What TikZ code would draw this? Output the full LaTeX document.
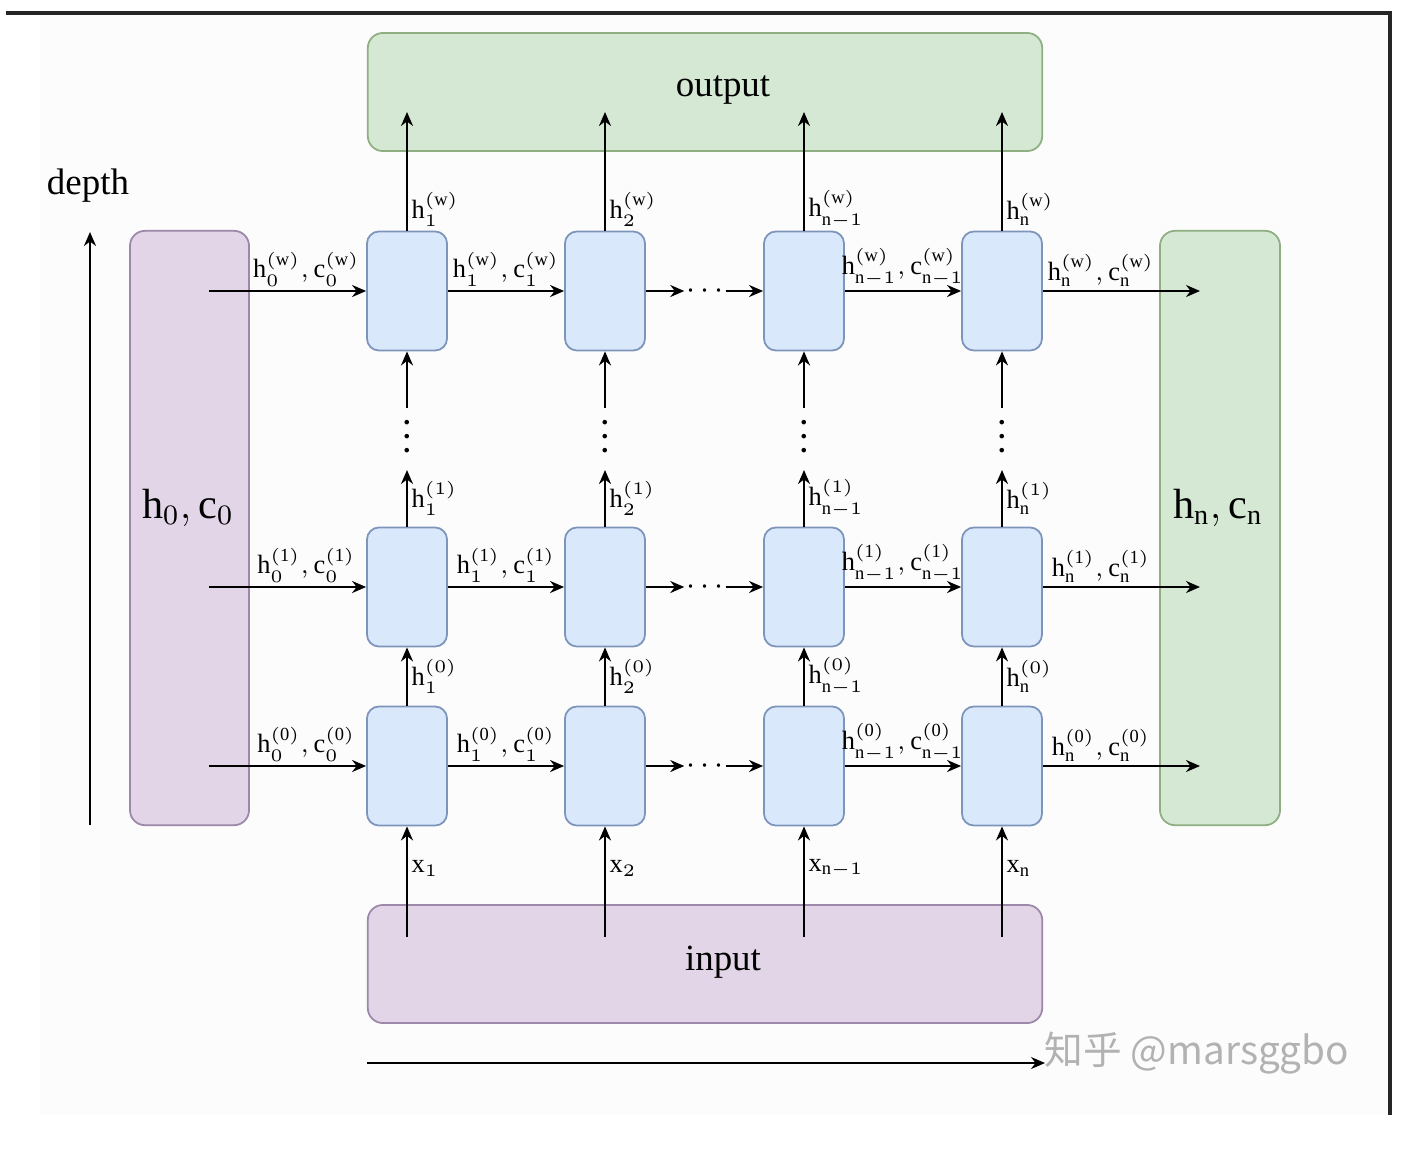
\documentclass[tikz,border=0pt]{standalone}
\usepackage{fontspec}
\setmainfont{Liberation Serif}
\newfontfamily\cjkfont{Noto Sans CJK SC}
\usepackage{tikz}
\usetikzlibrary{arrows.meta,positioning}

\definecolor{cellfill}{HTML}{DAE8FC}
\definecolor{cellline}{HTML}{7D95BA}
\definecolor{purfill}{HTML}{E1D5E7}
\definecolor{purline}{HTML}{9C88A8}
\definecolor{grnfill}{HTML}{D5E8D4}
\definecolor{grnline}{HTML}{8FAF83}

\begin{document}
\begin{tikzpicture}[
  x=0.01cm, y=-0.01cm,
  font=\fontsize{10.5}{12}\selectfont, >=Stealth,
  cell/.style={draw=cellline, fill=cellfill, rounded corners=1.2mm, line width=0.5pt,
    minimum width=0.8cm, minimum height=1.19cm},
  purbox/.style={draw=purline, fill=purfill, rounded corners=1.5mm, line width=0.5pt},
  grnbox/.style={draw=grnline, fill=grnfill, rounded corners=1.5mm, line width=0.5pt},
  lab/.style={font=\fontsize{7.5}{8}\selectfont, inner sep=1pt},
  big/.style={font=\fontsize{12}{14}\selectfont},
  flow/.style={-{Stealth[length=1.4mm,width=1.2mm]}, line width=0.6pt},
]
\useasboundingbox (0,0) rectangle (1412,1154);
% ---------------- frame ----------------
\fill[black!1] (40,13) rectangle (1390,1115);
\draw[line width=0.9pt, black!85] (6,13) -- (1390,13) -- (1390,1115);

% ---------------- outer boxes ----------------
\node[grnbox, minimum width=6.74cm, minimum height=1.18cm] (output) at (705,92) {};
\node (outtxt) at (723,90) {output};
\node[purbox, minimum width=6.74cm, minimum height=1.18cm] (input) at (705,964) {};
\node (intxt) at (723,962) {input};
\node[purbox, minimum width=1.19cm, minimum height=5.94cm] (init) at (189.5,528) {};
\node[big] (inittxt) at (188,508) {$\mathrm{h}_0,\mathrm{c}_0$};
\node[grnbox, minimum width=1.2cm, minimum height=5.94cm] (final) at (1220,528) {};
\node[big] (finaltxt) at (1218,508) {$\mathrm{h}_\mathrm{n},\mathrm{c}_\mathrm{n}$};

% ---------------- cells ----------------
\foreach \k/\x in {1/407,2/605,3/804,4/1002}
  \foreach \r/\y in {0/766,1/587,w/291}
    \node[cell] (c-\r-\k) at (\x,\y) {};

% ---------------- state arrows (time) ----------------
\foreach \r/\y in {0/766,1/587,w/291}{
  \coordinate (s-\r) at (209,\y);
  \coordinate (e-\r) at (1200,\y);
  \node[lab, inner sep=0, minimum width=4mm, font=\fontsize{9}{9}\selectfont] (dots-\r) at (705,\y) {$\cdots$};
  \draw[flow] (s-\r) -- node[lab, above, pos=0.62]
    {$\mathrm{h}^{\mathrm{(\r)}}_0,\mathrm{c}^{\mathrm{(\r)}}_0$} (c-\r-1);
  \draw[flow] (c-\r-1) -- node[lab, above]
    {$\mathrm{h}^{\mathrm{(\r)}}_1,\mathrm{c}^{\mathrm{(\r)}}_1$} (c-\r-2);
  \draw[flow] (c-\r-2) -- (dots-\r);
  \draw[flow] (dots-\r) -- (c-\r-3);
  \draw[flow] (c-\r-3) -- node[lab, above]
    {$\mathrm{h}^{\mathrm{(\r)}}_{\mathrm{n}{-}1},\mathrm{c}^{\mathrm{(\r)}}_{\mathrm{n}{-}1}$} (c-\r-4);
  \draw[flow] (c-\r-4) -- node[lab, above, pos=0.37]
    {$\mathrm{h}^{\mathrm{(\r)}}_\mathrm{n},\mathrm{c}^{\mathrm{(\r)}}_\mathrm{n}$} (e-\r);
}

% ---------------- layer arrows (depth) ----------------
\foreach \k/\x/\s in {1/407/1,2/605/2,3/804/{\mathrm{n}{-}1},4/1002/\mathrm{n}}{
  \coordinate (in-\k) at (\x,937);
  \coordinate (up-\k) at (\x,470);
  \coordinate (lo-\k) at (\x,408);
  \coordinate (out-\k) at (\x,112);
  \node[inner sep=0, font=\bfseries\fontsize{8}{8}\selectfont] (vd-\k) at (\x,426) {\vdots};
  \draw[flow] (in-\k) -- node[lab, right, pos=0.62] {$\mathrm{x}_{\s}$} (c-0-\k);
  \draw[flow] (c-0-\k) -- node[lab, right] {$\mathrm{h}^{(0)}_{\s}$} (c-1-\k);
  \draw[flow] (c-1-\k) -- node[lab, right] {$\mathrm{h}^{(1)}_{\s}$} (up-\k);
  \draw[flow] (lo-\k) -- (c-w-\k);
  \draw[flow] (c-w-\k) -- node[lab, right, pos=0.18] {$\mathrm{h}^{\mathrm{(w)}}_{\s}$} (out-\k);
}

% ---------------- axes ----------------
\coordinate (d0) at (90,825);
\coordinate (d1) at (90,232);
\draw[flow] (d0) -- (d1);
\node (depth) at (88,186) {depth};
\coordinate (t0) at (367,1063);
\coordinate (t1) at (1045,1063);
\draw[flow, line width=0.5pt] (t0) -- (t1);
\node[text=black!30, font=\cjkfont\fontsize{11}{13}\selectfont] (mark) at (1197,1053) {知乎 @marsggbo};
\end{tikzpicture}
\end{document}
